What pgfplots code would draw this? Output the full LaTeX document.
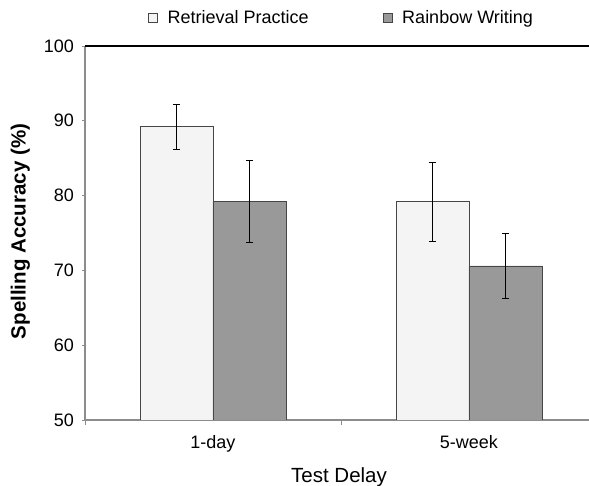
\documentclass[border=0pt]{standalone}
\usepackage{pgfplots}
\pgfplotsset{compat=1.18}
\usepackage{fontspec}
\setmainfont{Liberation Sans}

\definecolor{barlight}{HTML}{F4F4F4}
\definecolor{bardark}{HTML}{999999}
\definecolor{baredge}{HTML}{464646}
\definecolor{axisgray}{HTML}{8C8C8C}

\pgfplotsset{
  sq legend/.style={legend image code/.code={
    \draw[##1, line width=0.7pt] (0pt,-4.4pt) rectangle (8.8pt,4.4pt);}},
}

\begin{document}
\fontsize{18}{21}\selectfont
\begin{tikzpicture}
\path[use as bounding box] (0,0) rectangle (589pt,486pt);
\begin{axis}[
    at={(85pt,66pt)}, anchor=south west,
    scale only axis,
    width=504pt, height=374pt,
    xmin=0, xmax=1.969,
    ymin=50, ymax=100,
    ytick={50,60,...,100},
    xtick={0.5,1.5},
    xticklabels={1-day,5-week},
    minor xtick={0,1},
    axis x line*=bottom,
    axis y line*=left,
    axis line style={axisgray, line width=1.4pt, -},
    tick align=outside,
    major tick length=3pt,
    minor tick length=5pt,
    tick style={axisgray, line width=0.6pt},
    major x tick style={draw=none},
    /pgf/number format/assume math mode=true,
    yticklabel style={xshift=-2pt},
    xticklabel style={anchor=base, yshift=-26pt},
    xlabel={\fontsize{20.5}{24}\selectfont Test Delay},
    ylabel={\fontsize{20.5}{24}\selectfont\bfseries Spelling Accuracy (\%)},
    every axis x label/.style={at={(axis description cs:0.504,-0.168)}, anchor=base},
    every axis y label/.style={at={(axis description cs:-0.1177,0.504)}, rotate=90, anchor=base},
    ybar,
    bar width=0.285,
    legend columns=2,
    legend cell align=left,
    legend style={draw=none, fill=none, inner sep=0pt,
      at={(0.125,1.075)}, anchor=west,
      /tikz/every even column/.append style={column sep=72pt},
      /tikz/every odd column/.append style={column sep=8pt}},
]

% Retrieval Practice
\addplot[bar shift=-0.1425, fill=barlight, draw=baredge, line width=0.8pt, sq legend,
  error bars/.cd, y dir=both, y explicit,
  error bar style={black, line width=0.8pt},
  error mark options={rotate=90, mark size=3.6pt, black, line width=0.8pt}]
  coordinates {(0.5,89.2) +- (0,3.0) (1.5,79.2) +- (0,5.3)};
\addlegendentry{Retrieval Practice}

% Rainbow Writing
\addplot[bar shift=0.1425, fill=bardark, draw=baredge, line width=0.8pt, sq legend,
  error bars/.cd, y dir=both, y explicit,
  error bar style={black, line width=0.8pt},
  error mark options={rotate=90, mark size=3.6pt, black, line width=0.8pt}]
  coordinates {(0.5,79.2) +- (0,5.5) (1.5,70.6) +- (0,4.3)};
\addlegendentry{Rainbow Writing}

% heavy top rule
\draw[black, line width=2pt] (rel axis cs:0,1) -- (rel axis cs:1,1);

\end{axis}
\end{tikzpicture}
\end{document}
